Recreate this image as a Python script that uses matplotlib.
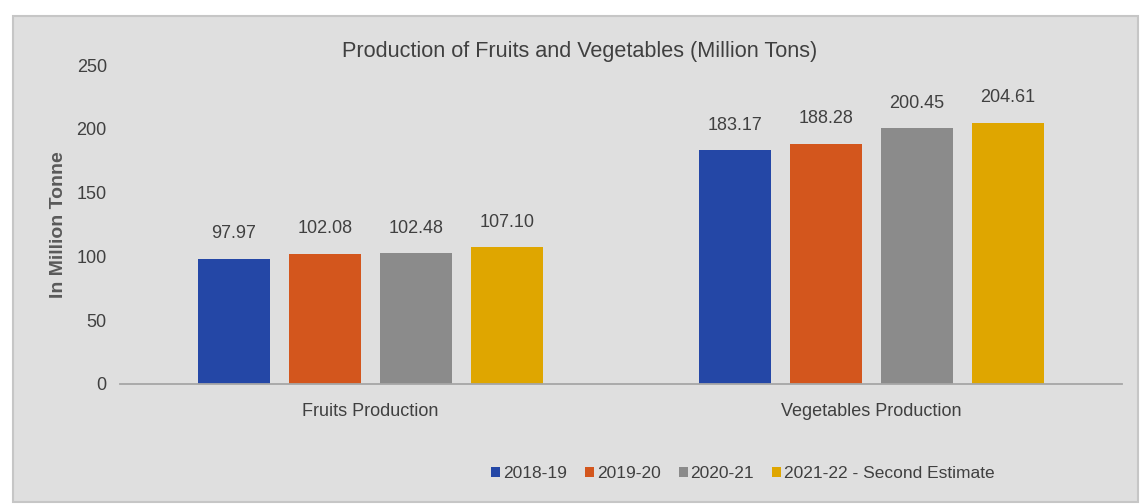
import matplotlib.pyplot as plt
from matplotlib import font_manager
from matplotlib.patches import Rectangle
import numpy as np

# datos del grafico
categorias = ['Fruits Production', 'Vegetables Production']
series = ['2018-19', '2019-20', '2020-21', '2021-22 - Second Estimate']
valores = {
    '2018-19': [97.97, 183.17],
    '2019-20': [102.08, 188.28],
    '2020-21': [102.48, 200.45],
    '2021-22 - Second Estimate': [107.10, 204.61],
}
colores = ['#2447a6', '#d3561d', '#8b8b8b', '#dfa600']

nombres = set(f.name for f in font_manager.fontManager.ttflist)
estrecha = 'Liberation Sans Narrow' in nombres
fuente = 'Liberation Sans Narrow' if estrecha else 'Liberation Sans'
plt.rcParams['font.family'] = [fuente, 'DejaVu Sans']
k = 1.2 if estrecha else 1.0  # escala de tamano para la fuente estrecha

fondo = '#dfdfdf'
texto = '#404040'

W, H = 1141, 504
fig = plt.figure(figsize=(W / 100, H / 100), dpi=100)
fig.patch.set_facecolor('white')

# recuadro gris de fondo
fig.patches.append(Rectangle((13 / W, 2 / H), 1125 / W, 486 / H,
                             transform=fig.transFigure, facecolor=fondo,
                             edgecolor='#c6c6c6', linewidth=1.5, zorder=-5))

# ejes: y=0 en 384 px, y=250 en 65 px; x de 120 a 1122 px
ax_left, ax_right = 120, 1122
y0, y250 = 384, 65
ax = fig.add_axes([ax_left / W, (H - y0) / H, (ax_right - ax_left) / W, (y0 - y250) / H])
ax.set_facecolor('none')

ppu = (ax_right - ax_left) / 2.0
x = np.arange(len(categorias))
ancho = 72 / ppu
paso = 91 / ppu
for i, s in enumerate(series):
    pos = x + (i - 1.5) * paso
    barras = ax.bar(pos, valores[s], width=ancho, color=colores[i], label=s, zorder=2)
    for b, v in zip(barras, valores[s]):
        ax.text(b.get_x() + b.get_width() / 2, v + 13, f'{v:.2f}', ha='center', va='bottom',
                fontsize=13 * k, color=texto)

ax.set_ylim(0, 250)
ax.set_xlim(-0.5, 1.5)
ax.set_yticks([0, 50, 100, 150, 200, 250])
ax.set_xticks(x)
ax.set_xticklabels(categorias, fontsize=13 * k, color=texto)
ax.tick_params(axis='y', labelsize=13 * k, colors=texto, length=0, pad=9.5)
ax.tick_params(axis='x', length=0, pad=14)
for lado in ['top', 'right', 'left']:
    ax.spines[lado].set_visible(False)
ax.spines['bottom'].set_color('#a6a6a6')
ax.spines['bottom'].set_linewidth(1.3)

fig.text(59 / W, (H - 225) / H, 'In Million Tonne', rotation=90, ha='center', va='center',
         fontsize=14, fontweight='bold', color='#595959', family=['Liberation Sans', 'DejaVu Sans'])
fig.text(580 / W, (H - 51) / H, 'Production of Fruits and Vegetables (Million Tons)',
         ha='center', va='center', fontsize=15.6 * k, color=texto)

handles, labels = ax.get_legend_handles_labels()
fig.legend(handles, labels, loc='center', bbox_to_anchor=(743 / W, (H - 474) / H), ncol=4,
           frameon=False, fontsize=12.5 * k, handlelength=0.52, handleheight=0.52,
           handletextpad=0.17, columnspacing=1.03, labelcolor=texto)

plt.savefig('out.png', dpi=100, facecolor='white')
